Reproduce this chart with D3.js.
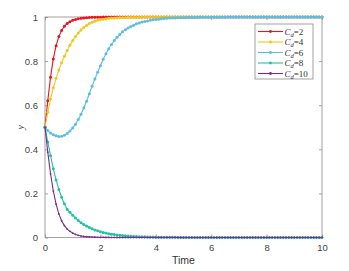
<!DOCTYPE html>
<html><head><meta charset="utf-8">
<script src="https://cdn.jsdelivr.net/npm/d3@7"></script>
<style>body{margin:0;background:#fff}svg{display:block}</style>
</head><body>
<svg id="c" width="349" height="271"></svg>
<script>
// time grid, 0..10 step 0.1 (101 samples)
const times = d3.range(0, 101).map(i => i / 10);
const xTicks = [0, 2, 4, 6, 8, 10];
const yTicks = [0, 0.2, 0.4, 0.6, 0.8, 1];
const seriesNames = ["2", "4", "6", "8", "10"];
const seriesColors = ["#e8151d", "#edc81c", "#5bbde6", "#22c1a6", "#7a2c8c"];

const cd2 = [0.5,0.62,0.727,0.81,0.87,0.911,0.939,0.958,0.971,0.979,0.985,0.989,0.992,0.994,0.996,0.997,0.998,0.9985,0.999,0.999,0.999,0.9995,0.9995,0.9995,0.9997,0.9997,0.9998,0.9998,0.9999,0.9999,
1,1,1,1,1,1,1,1,1,1,1,1,1,1,1,1,1,1,1,1,1,1,1,1,1,1,1,1,1,1,1,1,1,1,1,1,1,1,1,1,1,1,1,1,1,1,1,1,1,1,1,1,1,1,1,1,1,1,1,1,1,1,1,1,1,1,1,1,1,1,1];
const cd4 = [0.5,0.568,0.628,0.679,0.722,0.76,0.793,0.822,0.848,0.872,0.893,0.911,0.927,0.941,0.952,0.962,0.97,0.976,0.981,0.985,0.988,0.99,0.992,0.994,0.995,0.996,0.997,0.998,0.998,0.998,
0.999,0.999,0.999,0.999,0.999,0.9995,0.9995,0.9997,0.9998,0.9999,1,1,1,1,1,1,1,1,1,1,1,1,1,1,1,1,1,1,1,1,1,1,1,1,1,1,1,1,1,1,1,1,1,1,1,1,1,1,1,1,1,1,1,1,1,1,1,1,1,1,1,1,1,1,1,1,1,1,1,1,1];
const cd6 = [0.5,0.485,0.474,0.466,0.461,0.458,0.459,0.464,0.472,0.483,0.497,0.514,0.535,0.559,0.587,0.618,0.652,0.686,0.719,0.75,0.779,0.808,0.833,0.856,0.875,0.893,0.908,0.921,0.933,0.942,
0.95,0.957,0.963,0.969,0.973,0.977,0.98,0.982,0.985,0.987,0.989,0.99,0.992,0.993,0.994,0.995,0.995,0.996,0.997,0.997,0.997,0.998,0.998,0.998,0.998,0.999,0.999,0.999,0.999,0.999,0.999,0.999,0.999,0.999,0.999,0.999,
1,1,1,1,1,1,1,1,1,1,1,1,1,1,1,1,1,1,1,1,1,1,1,1,1,1,1,1,1,1,1,1,1,1,1];
const cd8 = [0.5,0.433,0.371,0.312,0.261,0.218,0.182,0.153,0.128,0.114,0.101,0.0887,0.0772,0.0671,0.059,0.0517,0.0452,0.0395,0.0345,0.0302,0.0263,0.023,0.02,0.0174,0.0152,0.0132,0.0115,0.01,0.0087,0.0076,
0.0066,0.0057,0.005,0.0043,0.0038,0.0033,0.0029,0.0025,0.0022,0.0019,0.0016,0.0014,0.0012,0.0011,0.001,0.0008,0.0007,0.0006,0.0005,0.0005,0.0004,0.0003,0.0003,0.0003,0.0002,0.0002,0.0002,0.0001,0.0001,0.0001,
0,0,0,0,0,0,0,0,0,0,0,0,0,0,0,0,0,0,0,0,0,0,0,0,0,0,0,0,0,0,0,0,0,0,0,0,0,0,0,0,0];
const cd10 = [0.5,0.387,0.289,0.211,0.151,0.107,0.076,0.054,0.038,0.028,0.02,0.014,0.01,0.007,0.005,0.004,0.003,0.002,0.0015,0.001,0.001,0.0007,0.0005,0.0004,0.0003,0.0002,0.0001,0.0001,0.0001,0,
0,0,0,0,0,0,0,0,0,0,0,0,0,0,0,0,0,0,0,0,0,0,0,0,0,0,0,0,0,0,0,0,0,0,0,0,0,0,0,0,0,0,0,0,0,0,0,0,0,0,0,0,0,0,0,0,0,0,0,0,0,0,0,0,0,0,0,0,0,0,0];
const seriesValues = [cd2, cd4, cd6, cd8, cd10];

const svg = d3.select("#c");
const L = 45, R = 322, T = 17, B = 237.5;
const x = d3.scaleLinear().domain([0, 10]).range([L, R]);
const y = d3.scaleLinear().domain([0, 1]).range([B, T]);
const axisColor = "#8a8a8a", textColor = "#444";
const tickFont = "'Liberation Sans', Arial, sans-serif";

// box
svg.append("rect").attr("x", L).attr("y", T).attr("width", R - L).attr("height", B - T)
  .attr("fill", "none").attr("stroke", axisColor).attr("stroke-width", 0.8);

// axes with inward ticks
const gx = svg.append("g").attr("transform", `translate(0,${B})`)
  .call(d3.axisBottom(x).tickValues(xTicks).tickSize(-3).tickPadding(7).tickFormat(d3.format("d")));
const gxTop = svg.append("g").attr("transform", `translate(0,${T})`)
  .call(d3.axisTop(x).tickValues(xTicks).tickSize(-3).tickFormat(""));
const gy = svg.append("g").attr("transform", `translate(${L},0)`)
  .call(d3.axisLeft(y).tickValues(yTicks).tickSize(-3).tickPadding(7).tickFormat(d => d === 0 || d === 1 ? d3.format("d")(d) : d3.format(".1f")(d)));
const gyR = svg.append("g").attr("transform", `translate(${R},0)`)
  .call(d3.axisRight(y).tickValues(yTicks).tickSize(-3).tickFormat(""));
[gx, gxTop, gy, gyR].forEach(g => {
  g.select(".domain").remove();
  g.selectAll(".tick line").attr("stroke", axisColor).attr("stroke-width", 0.8);
  g.selectAll(".tick text").attr("fill", textColor).attr("font-family", tickFont).attr("font-size", 9.5);
});

// axis labels
svg.append("text").attr("x", (L + R) / 2).attr("y", 264).attr("text-anchor", "middle")
  .attr("font-family", tickFont).attr("font-size", 10.5).attr("fill", "#333").text("Time");
svg.append("text").attr("transform", `translate(24,${(T + B) / 2}) rotate(-90)`).attr("text-anchor", "middle")
  .attr("font-family", "'Liberation Serif', 'Times New Roman', serif").attr("font-style", "italic")
  .attr("font-size", 10).attr("fill", "#333").text("y");

// series
const line = d3.line().x((d, i) => x(times[i])).y(d => y(d));
seriesValues.forEach((vals, k) => {
  const g = svg.append("g");
  g.append("path").datum(vals).attr("d", line).attr("fill", "none")
    .attr("stroke", seriesColors[k]).attr("stroke-width", 1.1);
  g.selectAll("circle").data(vals).join("circle")
    .attr("cx", (d, i) => x(times[i])).attr("cy", d => y(d))
    .attr("r", k === 4 ? 0.9 : 1.5).attr("fill", seriesColors[k]);
});

// legend
const lg = svg.append("g");
lg.append("rect").attr("x", 255).attr("y", 24).attr("width", 58).attr("height", 55)
  .attr("fill", "#fff").attr("stroke", axisColor).attr("stroke-width", 0.8);
seriesNames.forEach((n, k) => {
  const yy = 31.5 + k * 10.5;
  lg.append("line").attr("x1", 258).attr("x2", 283).attr("y1", yy).attr("y2", yy)
    .attr("stroke", seriesColors[k]).attr("stroke-width", 1.1);
  lg.append("circle").attr("cx", 270.5).attr("cy", yy).attr("r", 1.4).attr("fill", seriesColors[k]);
  const t = lg.append("text").attr("x", 284.5).attr("y", yy + 3)
    .attr("font-family", "'Liberation Serif', 'Times New Roman', serif").attr("font-size", 9).attr("fill", "#333");
  t.append("tspan").attr("font-style", "italic").text("C");
  t.append("tspan").attr("font-style", "italic").attr("font-size", 6.5).attr("dy", 2).text("d");
  t.append("tspan").attr("dy", -2).text("=" + n);
});
</script>
</body></html>
